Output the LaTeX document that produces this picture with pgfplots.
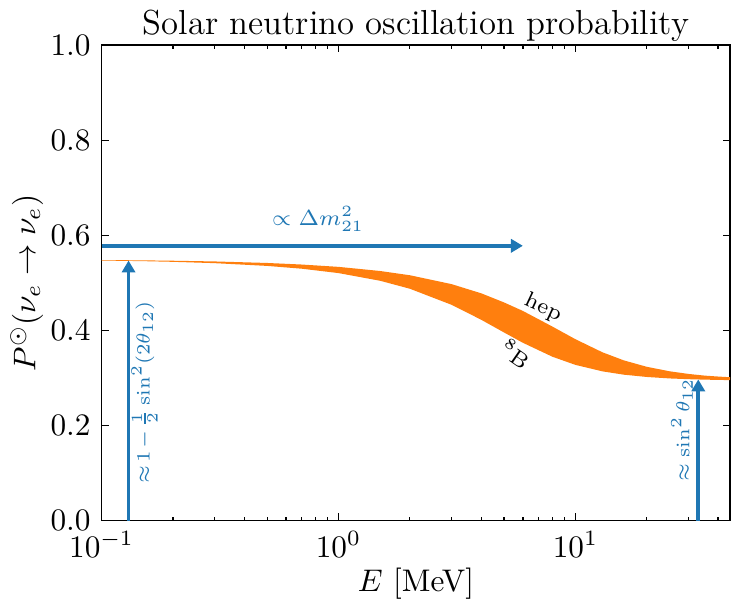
\documentclass[border=0pt]{standalone}
\usepackage{pgfplots}
\pgfplotsset{compat=1.18}
\usetikzlibrary{arrows.meta}
\definecolor{C0}{HTML}{1F77B4}
\definecolor{C1}{HTML}{FF7F0E}
\begin{document}
\begin{tikzpicture}
\begin{axis}[
  xmode=log, scale only axis, width=201pt, height=152pt,
  xmin=0.1, xmax=45, ymin=0, ymax=1,
  ytick={0,0.2,0.4,0.6,0.8,1},
  yticklabel style={/pgf/number format/fixed,/pgf/number format/precision=1,/pgf/number format/fixed zerofill},
  major tick length=2.3pt, minor tick length=1.3pt,
  tick style={black, line width=0.4pt},
  axis line style={line width=0.5pt},
  xlabel={$E$ [MeV]},
  ylabel={$P^{\odot}(\nu_e\to\nu_e)$},
  ylabel shift=-4.5pt,
  xlabel shift=-3.3pt,
  title={Solar neutrino oscillation probability},
  title style={font=\fontsize{11.1}{13}\selectfont, yshift=-8.5pt},
  clip=true,
]
% band between 8B (lower) and hep (upper)
\addplot[fill=C1, draw=none] coordinates {
(0.1,0.5480) (0.15,0.5474) (0.2,0.5466) (0.3,0.5451) (0.5,0.5419) (0.7,0.5386)
(1,0.5337) (1.5,0.5250) (2,0.5161) (3,0.4974) (4,0.4781) (5,0.4588) (6,0.4410)
(8,0.4080) (10,0.3815) (13,0.3540) (16,0.3370) (20,0.3235) (25,0.3140) (30,0.3085)
(35,0.3050) (40,0.3030) (45,0.3015)
(45,0.2955) (40,0.2959) (35,0.2965) (30,0.2974) (25,0.2990) (20,0.3021) (16,0.3069)
(13,0.3139) (10,0.3275) (8,0.3446) (6,0.3740) (5,0.3956) (4,0.4225) (3,0.4539)
(2,0.4877) (1.5,0.5044) (1,0.5206) (0.7,0.5298) (0.5,0.5357) (0.3,0.5415)
(0.2,0.5443) (0.15,0.5457) (0.1,0.5470)
} -- cycle;
% arrows
\addplot[C0, line width=1.2pt, -{Triangle[width=4.2pt,length=3.8pt]}] coordinates {(0.1,0.578) (6.0,0.578)};
\addplot[C0, line width=1.2pt, -{Triangle[width=4.2pt,length=3.8pt]}] coordinates {(0.13,0) (0.13,0.547)};
\addplot[C0, line width=1.2pt, -{Triangle[width=4.2pt,length=3.8pt]}] coordinates {(33,0) (33,0.297)};
% annotations
\node[C0, font=\scriptsize, anchor=south] at (axis cs:0.82,0.584) {$\propto \Delta m^2_{21}$};
\node[C0, font=\fontsize{6}{8}\selectfont, rotate=90] at (axis cs:0.152,0.27) {${\approx}\mskip2mu 1\mskip2mu{-}\mskip2mu{\textstyle\frac{1}{2}}\sin^2(2\theta_{12})$};
\node[C0, font=\fontsize{6.3}{8}\selectfont, rotate=90] at (axis cs:28.2,0.19) {${\approx}\mskip2mu\sin^2\theta_{12}$};
\node[font=\scriptsize, rotate=-25] at (axis cs:7.3,0.447) {hep};
\node[font=\scriptsize, rotate=-35] at (axis cs:5.6,0.350) {$^{8}$B};
\end{axis}
\end{tikzpicture}
\end{document}
